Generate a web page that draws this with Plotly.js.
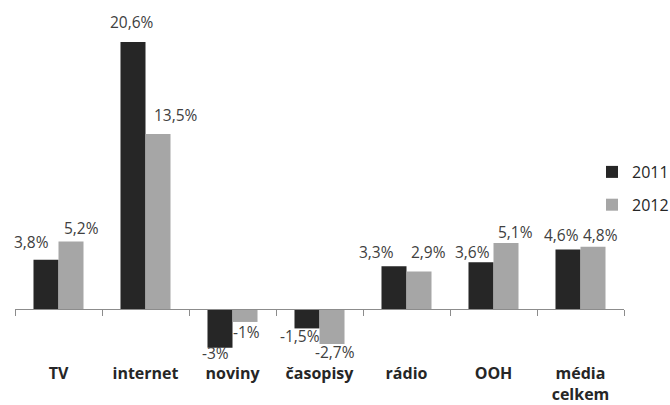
<!DOCTYPE html>
<html>
<head>
<meta charset="utf-8">
<script src="https://cdn.plot.ly/plotly-3.0.1.min.js"></script>
<style>
  html, body { margin: 0; padding: 0; background: #ffffff; }
  #chart { width: 670px; height: 405px; }
</style>
</head>
<body>
<div id="chart"></div>
<script>
// Year-on-year change of advertising spend by media type
const categories = ['TV', 'internet', 'noviny', 'časopisy', 'rádio', 'OOH', 'média<br>celkem'];
const seriesNames = ['2011', '2012'];
const values2011 = [3.8, 20.6, -3, -1.5, 3.3, 3.6, 4.6];
const values2012 = [5.2, 13.5, -1, -2.7, 2.9, 5.1, 4.8];

// Hand-placed value labels: pixel nudges from the end of each bar
const nudgeX2011 = [-14, -1, -4, -7, -17, -8, -6];
const nudgeX2012 = [10.5, 17.5, 1, 2.5, 9, 9.5, 7.5];
const liftY2011 = [18, 20, 5.5, 8, 14, 10, 14];
const liftY2012 = [14, 19.5, 10, 8, 19, 11, 12];

const W = 670, H = 405;
const margin = { l: 15, r: 46, t: 10, b: 43, autoexpand: false };
const yRange = [-4.09, 23.07];
const bargap = 0.425;

const FONT = 'Open Sans, DejaVu Sans, sans-serif';
const colors = ['#262626', '#a6a6a6'];

const fmt = v => String(v).replace('.', ',') + '%';

const traces = [values2011, values2012].map((vals, k) => ({
  type: 'bar',
  name: seriesNames[k],
  x: categories,
  y: vals,
  marker: { color: colors[k], line: { width: 0 } },
  legendgroup: 'g' + k,
  hoverinfo: 'skip'
}));

// carrier trace for the axis drawn along zero
traces.push({
  type: 'scatter',
  mode: 'none',
  x: categories,
  y: categories.map(() => 0),
  xaxis: 'x2',
  yaxis: 'y',
  showlegend: false,
  hoverinfo: 'skip'
});

// bar half-offset in pixels, derived from the plot geometry
const plotW = W - margin.l - margin.r;
const plotH = H - margin.t - margin.b;
const barW = plotW / categories.length * (1 - bargap) / 2;
const half = barW / 2;

const annotations = [];
[[values2011, nudgeX2011, liftY2011, -1], [values2012, nudgeX2012, liftY2012, 1]].forEach(([vals, nx, ly, side]) => {
  vals.forEach((v, i) => {
    annotations.push({
      x: categories[i], y: v, xref: 'x', yref: 'y',
      text: fmt(v), showarrow: false,
      xanchor: 'center', yanchor: 'middle',
      borderpad: 0,
      xshift: side * half + nx[i],
      yshift: v >= 0 ? ly[i] : -ly[i],
      font: { family: FONT, size: 15.5, color: '#404040' }
    });
  });
});

const layout = {
  width: W, height: H,
  margin: margin,
  paper_bgcolor: '#ffffff',
  plot_bgcolor: '#ffffff',
  barmode: 'group',
  bargap: bargap,
  bargroupgap: 0,
  showlegend: true,
  legend: {
    x: (592 - margin.l) / plotW, xanchor: 'left',
    y: 0.5 - 2.5 / plotH, yanchor: 'middle',
    traceorder: 'grouped',
    tracegroupgap: 9,
    font: { family: FONT, size: 16, color: '#262626' },
    bgcolor: 'rgba(0,0,0,0)'
  },
  xaxis: {
    type: 'category',
    range: [-0.5, categories.length - 0.5],
    showline: false, showgrid: false, zeroline: false,
    ticks: '',
    tickfont: { family: FONT, size: 16, color: '#262626', weight: 'bold' },
    fixedrange: true
  },
  xaxis2: {
    type: 'category',
    overlaying: 'x',
    anchor: 'free',
    position: (0 - yRange[0]) / (yRange[1] - yRange[0]),
    range: [-0.5, categories.length - 0.5],
    showline: true, linecolor: '#8c8c8c', linewidth: 1,
    ticks: 'outside', tickson: 'boundaries', ticklen: 6, tickcolor: '#8c8c8c', tickwidth: 1,
    showticklabels: false, showgrid: false, zeroline: false,
    fixedrange: true
  },
  yaxis: {
    range: yRange,
    visible: false,
    showgrid: false, zeroline: false,
    fixedrange: true
  },
  annotations: annotations
};

Plotly.newPlot('chart', traces, layout, { displayModeBar: false, staticPlot: true });
</script>
</body>
</html>
